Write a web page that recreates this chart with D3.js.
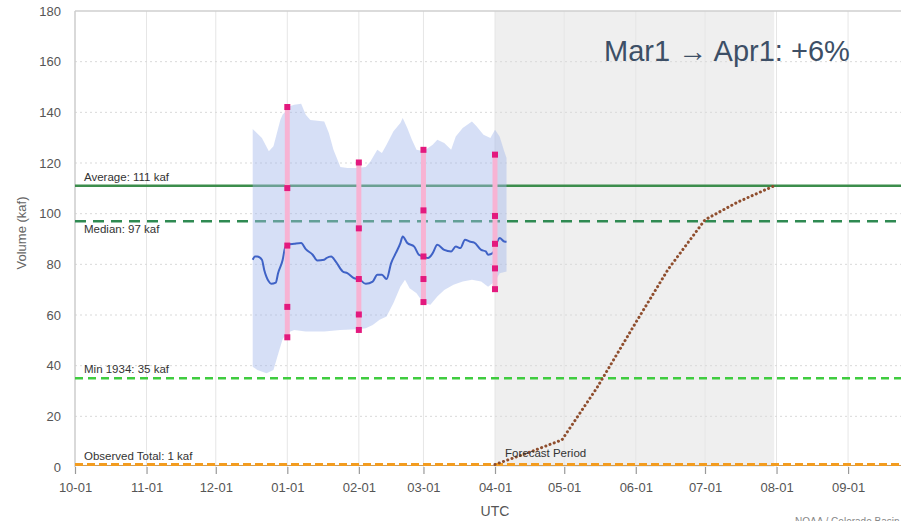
<!DOCTYPE html>
<html>
<head>
<meta charset="utf-8">
<script src="https://cdn.jsdelivr.net/npm/d3@7"></script>
<style>
  html, body { margin: 0; padding: 0; background: #fff; }
  svg { display: block; font-family: "Liberation Sans", Arial, sans-serif; }
</style>
</head>
<body>
<svg id="chart" width="901" height="521"></svg>
<script>
// ---------------- data ----------------
const yTicks = [0, 20, 40, 60, 80, 100, 120, 140, 160, 180];
const xDomain = ["2024-10-01", "2025-09-30"];
const forecastWindow = ["2025-04-01", "2025-07-31"];

const refLines = [
  { label: "Average: 111 kaf", value: 111 },
  { label: "Median: 97 kaf", value: 97 },
  { label: "Min 1934: 35 kaf", value: 35 },
  { label: "Observed Total: 1 kaf", value: 1 }
];

// upper / lower edges of the historical range band (kaf)
const bandUpper = [
  ["2024-12-17",133.4],["2024-12-21",129.9],["2024-12-24",124.6],["2024-12-26",126.6],
  ["2024-12-29",137.1],["2024-12-30",139.1],["2025-01-01",141.0],["2025-01-02",142.4],
  ["2025-01-04",143.0],["2025-01-07",143.4],["2025-01-09",139.0],["2025-01-11",137.0],
  ["2025-01-14",136.7],["2025-01-17",136.4],["2025-01-19",131.8],["2025-01-21",125.2],
  ["2025-01-24",118.4],["2025-01-27",118.0],["2025-01-31",118.0],["2025-02-04",118.4],
  ["2025-02-06",120.6],["2025-02-09",125.2],["2025-02-11",123.9],["2025-02-13",127.2],
  ["2025-02-16",132.5],["2025-02-19",135.8],["2025-02-20",137.8],["2025-02-22",133.8],
  ["2025-02-24",129.2],["2025-02-26",125.2],["2025-03-01",124.6],["2025-03-05",127.2],
  ["2025-03-07",129.2],["2025-03-10",127.9],["2025-03-13",125.2],["2025-03-15",130.5],
  ["2025-03-18",133.8],["2025-03-22",136.4],["2025-03-24",134.5],["2025-03-27",131.2],
  ["2025-03-30",129.9],["2025-04-01",133.1],["2025-04-03",130.5],["2025-04-05",124.6],
  ["2025-04-06",122.0]
];
const bandLower = [
  ["2024-12-17",39.6],["2024-12-19",38.3],["2024-12-23",37.0],["2024-12-26",38.3],
  ["2024-12-28",44.5],["2024-12-30",50.5],["2025-01-01",53.0],["2025-01-04",54.1],
  ["2025-01-09",53.5],["2025-01-17",53.5],["2025-01-24",54.1],["2025-01-31",54.4],
  ["2025-02-04",54.8],["2025-02-07",56.1],["2025-02-10",58.1],["2025-02-13",59.4],
  ["2025-02-16",64.7],["2025-02-19",71.2],["2025-02-21",73.9],["2025-02-23",70.6],
  ["2025-02-26",68.6],["2025-03-01",64.7],["2025-03-04",64.0],["2025-03-07",67.3],
  ["2025-03-10",69.9],["2025-03-14",71.9],["2025-03-18",73.2],["2025-03-22",73.9],
  ["2025-03-26",73.2],["2025-03-29",71.2],["2025-04-01",73.2],["2025-04-03",76.5],
  ["2025-04-06",77.2]
];
// daily median forecast trace (kaf)
const medianTrace = [
  ["2024-12-17",81.8],["2024-12-18",83.1],["2024-12-19",83.1],["2024-12-21",81.8],
  ["2024-12-22",77.8],["2024-12-24",73.2],["2024-12-25",72.3],["2024-12-27",72.8],
  ["2024-12-28",76.5],["2024-12-30",81.8],["2024-12-31",86.4],["2025-01-01",87.7],
  ["2025-01-04",88.1],["2025-01-07",88.4],["2025-01-09",86.0],["2025-01-12",83.8],
  ["2025-01-14",81.5],["2025-01-17",81.8],["2025-01-18",82.5],["2025-01-20",83.1],
  ["2025-01-22",81.1],["2025-01-25",77.2],["2025-01-27",76.5],["2025-01-30",74.5],
  ["2025-02-01",74.2],["2025-02-04",72.3],["2025-02-07",73.2],["2025-02-09",75.9],
  ["2025-02-11",75.9],["2025-02-13",74.2],["2025-02-15",80.5],["2025-02-17",84.4],
  ["2025-02-19",88.4],["2025-02-20",91.0],["2025-02-22",88.4],["2025-02-25",87.0],
  ["2025-02-27",83.8],["2025-03-01",83.1],["2025-03-03",82.5],["2025-03-05",84.4],
  ["2025-03-07",87.7],["2025-03-10",85.7],["2025-03-13",85.1],["2025-03-15",87.0],
  ["2025-03-17",86.4],["2025-03-19",89.7],["2025-03-21",89.0],["2025-03-23",88.6],
  ["2025-03-26",85.7],["2025-03-28",85.1],["2025-03-29",83.8],["2025-03-31",84.4],
  ["2025-04-02",89.0],["2025-04-03",90.4],["2025-04-05",89.0],["2025-04-06",88.9]
];

// forecast issuance dates and exceedance quantiles (kaf)
const issueDates = ["2025-01-01", "2025-02-01", "2025-03-01", "2025-04-01"];
const p10 = [142.1, 120.2, 125.2, 123.3];
const p30 = [110.1, 94.2, 101.3, 99.1];
const p50 = [87.4, 74.2, 83.1, 88.1];
const p70 = [63.2, 60.2, 74.2, 78.4];
const p90 = [51.2, 54.1, 65.1, 70.2];

// forecast accumulation (kaf)
const forecastDates = ["2025-04-01","2025-04-15","2025-04-30","2025-05-15","2025-06-01","2025-06-15","2025-07-01","2025-07-15","2025-07-31"];
const forecastVals = [1, 5.5, 10.7, 31, 57, 78, 97.6, 104.5, 111];

const titleText = "Mar1 \u2192 Apr1: +6%";

// ---------------- chart ----------------
const parse = d3.utcParse("%Y-%m-%d");
const svg = d3.select("#chart");
const L = 75, R = 915, T = 11, B = 467;

const x = d3.scaleUtc().domain(xDomain.map(parse)).range([L, R]);
const y = d3.scaleLinear().domain([0, 180]).range([B, T]);

// forecast period shading
svg.append("rect")
  .attr("x", x(parse(forecastWindow[0])))
  .attr("y", T)
  .attr("width", x(parse(forecastWindow[1])) - x(parse(forecastWindow[0])))
  .attr("height", B - T)
  .attr("fill", "#efefef");

// vertical grid
const monthTicks = d3.utcMonth.range(parse("2024-10-01"), parse("2025-09-02"));
svg.append("g").selectAll("line").data(monthTicks.slice(1)).join("line")
  .attr("x1", d => x(d)).attr("x2", d => x(d))
  .attr("y1", T).attr("y2", B)
  .attr("stroke", "#e6e6e6").attr("stroke-width", 1);

// horizontal grid
svg.append("g").selectAll("line").data(yTicks.filter(v => v > 0 && v < 180)).join("line")
  .attr("x1", L).attr("x2", 901)
  .attr("y1", d => y(d)).attr("y2", d => y(d))
  .attr("stroke", "#d9d9d9").attr("stroke-width", 1).attr("stroke-dasharray", "2,3");
svg.append("line").attr("x1", L).attr("x2", 901).attr("y1", y(180)).attr("y2", y(180))
  .attr("stroke", "#cfcfcf").attr("stroke-width", 1.5);
svg.append("line").attr("x1", L).attr("x2", L).attr("y1", T).attr("y2", B)
  .attr("stroke", "#cccccc").attr("stroke-width", 1.5);

// y axis
const yAxis = d3.axisLeft(y).tickValues(yTicks).tickSize(0).tickPadding(14);
const gy = svg.append("g").attr("transform", `translate(${L},0)`).call(yAxis);
gy.select(".domain").remove();
gy.selectAll("text").attr("font-size", 13).attr("fill", "#555")
  .attr("font-family", "'Liberation Sans', Arial, sans-serif");

// x axis
const xAxis = d3.axisBottom(x).tickValues(monthTicks).tickFormat(d3.utcFormat("%m-%d"))
  .tickSize(7).tickPadding(9);
const gx = svg.append("g").attr("transform", `translate(0,${B})`).call(xAxis);
gx.select(".domain").remove();
gx.selectAll("line").attr("stroke", "#999").attr("stroke-width", 1.2);
gx.selectAll("text").attr("font-size", 13).attr("fill", "#555")
  .attr("font-family", "'Liberation Sans', Arial, sans-serif");

// reference lines
const refStyle = [
  { stroke: "#3c8d4c", dash: null, w: 2.5 },
  { stroke: "#2f8a52", dash: "11,7", w: 2.5 },
  { stroke: "#3fcc3f", dash: "8,5", w: 2.5 },
  { stroke: "#f39c1f", dash: "8,4", w: 3 }
];
// thin observed trace under the observed total line
svg.append("line").attr("x1", L).attr("x2", 901).attr("y1", y(0.6)).attr("y2", y(0.6))
  .attr("stroke", "#c89a5a").attr("stroke-width", 1);
refLines.forEach((r, i) => {
  const s = refStyle[i];
  svg.append("line").attr("x1", L).attr("x2", 901)
    .attr("y1", y(r.value)).attr("y2", y(r.value))
    .attr("stroke", s.stroke).attr("stroke-width", s.w)
    .attr("stroke-dasharray", s.dash);
});

// range band
const bandPts = bandUpper.map(d => [parse(d[0]), d[1]])
  .concat(bandLower.slice().reverse().map(d => [parse(d[0]), d[1]]));
svg.append("path")
  .attr("d", d3.line().x(d => x(d[0])).y(d => y(d[1]))(bandPts) + "Z")
  .attr("fill", "rgb(165,185,236)").attr("fill-opacity", 0.45);

// median trace
svg.append("path")
  .datum(medianTrace)
  .attr("d", d3.line().x(d => x(parse(d[0]))).y(d => y(d[1])).curve(d3.curveMonotoneX))
  .attr("fill", "none").attr("stroke", "#3f62c6").attr("stroke-width", 2);

// quantile bars
const qs = issueDates.map((d, i) => ({ date: parse(d), vals: [p10[i], p30[i], p50[i], p70[i], p90[i]] }));
svg.append("g").selectAll("line").data(qs).join("line")
  .attr("x1", d => x(d.date)).attr("x2", d => x(d.date))
  .attr("y1", d => y(d3.max(d.vals))).attr("y2", d => y(d3.min(d.vals)))
  .attr("stroke", "#f7b3d3").attr("stroke-width", 5);
svg.append("g").selectAll("rect").data(qs.flatMap(q => q.vals.map(v => ({ date: q.date, v })))).join("rect")
  .attr("x", d => x(d.date) - 3).attr("y", d => y(d.v) - 3)
  .attr("width", 6).attr("height", 6)
  .attr("fill", "#e3197e");

// forecast dotted line
svg.append("path")
  .datum(forecastDates.map((d, i) => [parse(d), forecastVals[i]]))
  .attr("d", d3.line().x(d => x(d[0])).y(d => y(d[1])))
  .attr("fill", "none").attr("stroke", "#8f4e2e").attr("stroke-width", 3)
  .attr("stroke-linecap", "round").attr("stroke-dasharray", "0.1,4.4");

// labels
const lab = (txt, xx, yy, size, fill, anchor) => svg.append("text")
  .attr("x", xx).attr("y", yy).attr("font-size", size).attr("fill", fill)
  .attr("text-anchor", anchor || "start").text(txt);
const labelOffsets = [-5, 12, -5, -4];
refLines.forEach((r, i) => lab(r.label, 84, y(r.value) + labelOffsets[i], 11.5, "#333"));
lab("Forecast Period", 505, 457, 11.5, "#333");

// axis titles
svg.append("text").attr("transform", "translate(26,233) rotate(-90)")
  .attr("text-anchor", "middle").attr("font-size", 13).attr("fill", "#666").text("Volume (kaf)");
lab("UTC", (L + R) / 2, 516, 14, "#555", "middle");

// annotation
lab(titleText, 604, 61, 29, "#3d4f66");

// credit (cut off at bottom edge, as in the source)
lab("NOAA / Colorado Basin", 795, 525, 10, "#888");
</script>
</body>
</html>
